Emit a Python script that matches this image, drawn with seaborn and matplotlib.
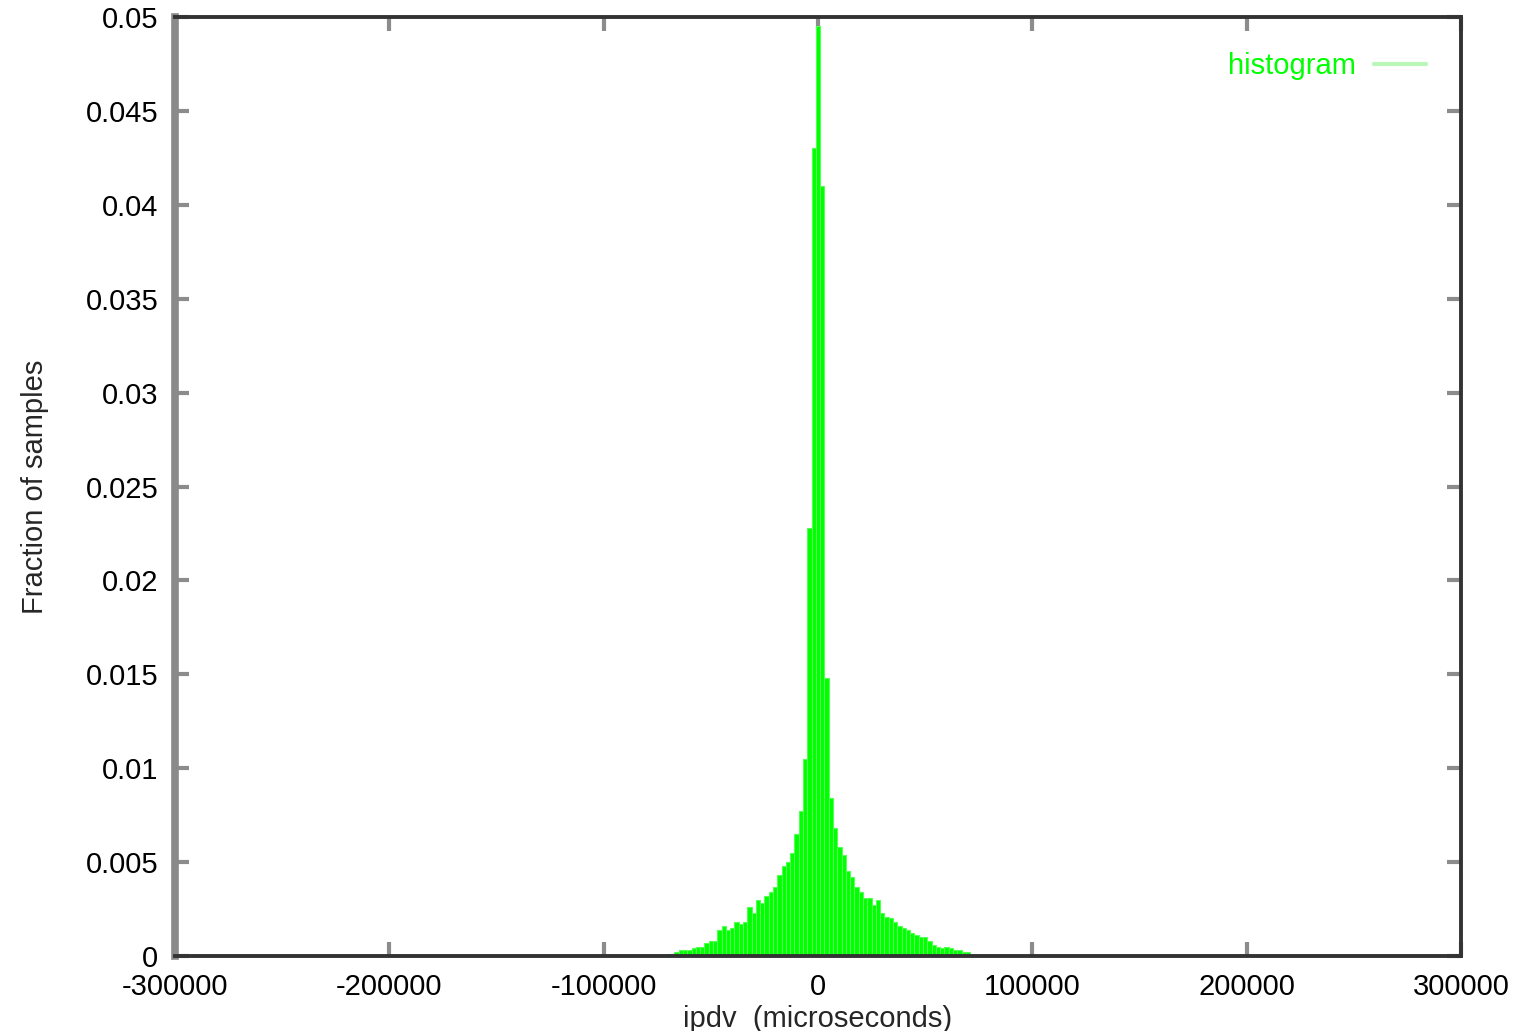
import numpy as np
import pandas as pd
import matplotlib
matplotlib.use("Agg")
import matplotlib.pyplot as plt
from matplotlib.lines import Line2D
import seaborn as sns

# ipdv histogram: bin centres (microseconds) and fraction of samples per bin
bin_width = 2000
bin_centers = np.arange(-72000, 70001, bin_width)
left_tail = [0.00005, 0.0001, 0.0001, 0.0002, 0.0003, 0.0003, 0.0003, 0.0004,
             0.0005, 0.0005, 0.0007, 0.0008, 0.0008, 0.0014, 0.0016, 0.0014,
             0.0015, 0.0018, 0.0017, 0.0018, 0.0026, 0.0023, 0.0030, 0.0028,
             0.0032, 0.0034, 0.0037, 0.0043, 0.0048, 0.0050, 0.0055, 0.0065,
             0.0077, 0.0105, 0.0228, 0.0430]
peak = [0.0495]
right_tail = [0.0410, 0.0148, 0.0084, 0.0068, 0.0058, 0.0054, 0.0045, 0.0042,
              0.0037, 0.0034, 0.0031, 0.0031, 0.0027, 0.0030, 0.0023, 0.0021,
              0.0020, 0.0018, 0.0016, 0.0015, 0.0014, 0.0012, 0.0011, 0.0010,
              0.0010, 0.0008, 0.0006, 0.0005, 0.0004, 0.0005, 0.0004, 0.0003,
              0.0003, 0.0002, 0.0002]
fractions = left_tail + peak + right_tail

x_ticks = [-300000, -200000, -100000, 0, 100000, 200000, 300000]
x_tick_labels = ["-300000", "-200000", "-100000", "0", "100000", "200000", "300000"]
y_ticks = [0, 0.005, 0.01, 0.015, 0.02, 0.025, 0.03, 0.035, 0.04, 0.045, 0.05]
y_tick_labels = ["0", "0.005", "0.01", "0.015", "0.02", "0.025", "0.03",
                 "0.035", "0.04", "0.045", "0.05"]

df = pd.DataFrame({"ipdv": bin_centers, "fraction": fractions})

sns.set_style("white")
plt.rcParams["font.family"] = ["Liberation Sans", "DejaVu Sans"]
plt.rcParams["axes.unicode_minus"] = False

fig = plt.figure(figsize=(15.16, 10.31), dpi=100)
ax = fig.add_axes([175 / 1516, 1 - 956 / 1031, (1461 - 175) / 1516, (956 - 17) / 1031])

# impulses drawn as adjacent bars, with a paler edge giving the striped look
sns.histplot(data=df, x="ipdv", weights="fraction", binwidth=bin_width,
             binrange=(-73000, 71000), color="#00ff00", alpha=1.0,
             edgecolor="#55ff55", linewidth=0.8, shrink=1.0, ax=ax)

ax.set_xlim(-300000, 300000)
ax.set_ylim(0, 0.05)
ax.set_xticks(x_ticks)
ax.set_xticklabels(x_tick_labels)
ax.set_yticks(y_ticks)
ax.set_yticklabels(y_tick_labels)

fs = 21
ax.tick_params(axis="both", which="both", direction="in", length=10, width=3,
               color="#8c8c8c", labelsize=fs, labelcolor="black",
               top=True, right=True, bottom=True, left=True)
ax.tick_params(axis="y", pad=12)
ax.tick_params(axis="x", pad=12)

for side in ["top", "right", "bottom"]:
    ax.spines[side].set_color("#333333")
    ax.spines[side].set_linewidth(2.8)
ax.spines["left"].set_color("#8a8a8a")
ax.spines["left"].set_linewidth(5.5)

ax.set_xlabel("ipdv  (microseconds)", fontsize=fs, labelpad=3)
ax.set_ylabel("Fraction of samples", fontsize=fs, labelpad=26)

handle = Line2D([0], [0], color="#b9f7b9", lw=3)
leg = ax.legend([handle], ["histogram"], loc="upper right", frameon=False,
                markerfirst=False, fontsize=fs, handlelength=1.8,
                handletextpad=0.6, borderaxespad=0.8)
for t in leg.get_texts():
    t.set_color("#00ff00")

fig.savefig("out.png", dpi=100)
